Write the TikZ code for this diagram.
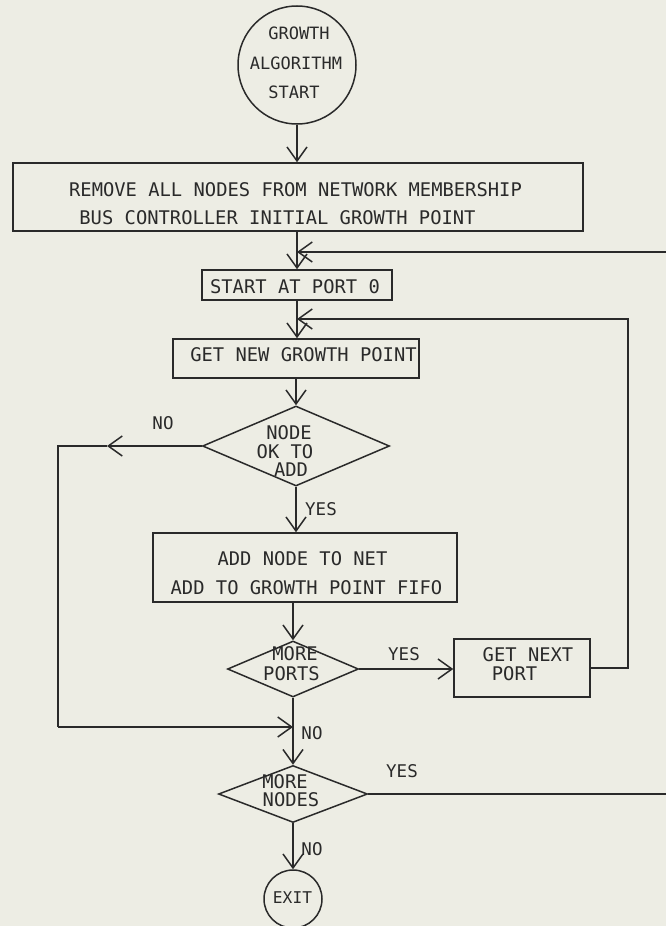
\documentclass[tikz,border=0pt]{standalone}
\usepackage{fontspec}
\newfontfamily\plotfont{DejaVu Sans Mono}
\usetikzlibrary{arrows.meta,shapes.geometric}
\definecolor{bg}{RGB}{237,237,228}
\definecolor{ink}{RGB}{42,42,42}
\begin{document}
\begin{tikzpicture}[x=1pt,y=-1pt,
  line width=1.5pt,
  arr/.style={draw=ink,-{Straight Barb[length=14pt,width=20pt,line width=1.5pt]}},
  conn/.style={draw=ink},
  box/.style={draw=ink,rectangle,inner sep=0pt},
  dia/.style={draw=ink,diamond,inner sep=0pt},
  circ/.style={draw=ink,circle,inner sep=0pt},
  txt/.style={inner sep=0pt,anchor=base,text=ink,font=\plotfont\fontsize{18.8}{18.8}\selectfont},
  ctxt/.style={txt,font=\plotfont\fontsize{17}{17}\selectfont},
  lbl/.style={txt,font=\plotfont\fontsize{17.5}{17.5}\selectfont}]
\useasboundingbox (0,0) rectangle (666,926);
\fill[bg] (0,0) rectangle (666,926);

% shapes
\node[circ,minimum size=118pt] (gs) at (297,65) {};
\node[box,minimum width=570pt,minimum height=68pt] (b1) at (298,197) {};
\node[box,minimum width=190pt,minimum height=30pt] (sp) at (297,285) {};
\node[box,minimum width=246pt,minimum height=39pt] (gn) at (296,358.5) {};
\node[dia,minimum width=187pt,minimum height=80pt] (d1) at (296,446) {};
\node[box,minimum width=304pt,minimum height=69pt] (ad) at (305,567.5) {};
\node[dia,minimum width=131pt,minimum height=56pt] (d2) at (293,669) {};
\node[box,minimum width=136pt,minimum height=58pt] (nx) at (522,668) {};
\node[dia,minimum width=149pt,minimum height=57pt] (d3) at (293,794) {};
\node[circ,minimum size=58pt] (ex) at (293,899) {};

% texts
\node[ctxt] (t1) at (299,39) {GROWTH};
\node[ctxt] (t2) at (296,69) {ALGORITHM};
\node[ctxt] (t3) at (294,98) {START};
\node[txt] (t4) at (295.5,196) {REMOVE ALL NODES FROM NETWORK MEMBERSHIP};
\node[txt] (t5) at (277.5,224) {BUS CONTROLLER INITIAL GROWTH POINT};
\node[txt] (t6) at (295,293) {START AT PORT 0};
\node[txt] (t7) at (303.5,361) {GET NEW GROWTH POINT};
\node[txt] (t8) at (289,439) {NODE};
\node[txt] (t9) at (285,458) {OK TO};
\node[txt] (t10) at (291,476) {ADD};
\node[txt] (t11) at (302.5,565) {ADD NODE TO NET};
\node[txt] (t12) at (306.5,594) {ADD TO GROWTH POINT FIFO};
\node[txt] (t13) at (295,660) {MORE};
\node[txt] (t14) at (291.5,680) {PORTS};
\node[txt] (t15) at (528,661) {GET NEXT};
\node[txt] (t16) at (514.5,680) {PORT};
\node[txt] (t17) at (285,788) {MORE};
\node[txt] (t18) at (291,806) {NODES};
\node[txt,font=\plotfont\fontsize{16.2}{16.2}\selectfont] (t19) at (292.5,903) {EXIT};

% labels
\node[lbl] (l1) at (163,429) {NO};
\node[lbl] (l2) at (321,515) {YES};
\node[lbl] (l3) at (404,660) {YES};
\node[lbl] (l4) at (312,739) {NO};
\node[lbl] (l5) at (402,777) {YES};
\node[lbl] (l6) at (312,855) {NO};

% coordinates
\coordinate (J1) at (297,252);
\coordinate (R1) at (666,252);
\coordinate (J2) at (297,319);
\coordinate (R2) at (628,319);
\coordinate (aL) at (107,446);
\coordinate (L1) at (58,446);
\coordinate (L2) at (58,727);
\coordinate (J3) at (293,727);
\coordinate (R3) at (666,794);

% connectors
\draw[arr] (gs.south) -- (gs.south |- b1.north);
\draw[arr] (J1 |- b1.south) -- (sp.north);
\draw[arr] (R1) -- (J1);
\draw[arr] (sp.south) -- (sp.south |- gn.north);
\draw[arr] (nx.east) -| (R2) -- (J2);
\draw[arr] (gn.south) -- (gn.south |- d1.north);
\draw[arr] (d1.west) -- (aL);
\draw[conn] (aL) -- (L1) -- (L2);
\draw[arr] (L2) -- (J3);
\draw[arr] (d1.south) -- (d1.south |- ad.north);
\draw[arr] (d2.north |- ad.south) -- (d2.north);
\draw[arr] (d2.east) -- (d2.east -| nx.west);
\draw[arr] (d2.south) -- (d3.north);
\draw[conn] (d3.east) -- (R3);
\draw[arr] (d3.south) -- (ex.north);
\end{tikzpicture}
\end{document}
